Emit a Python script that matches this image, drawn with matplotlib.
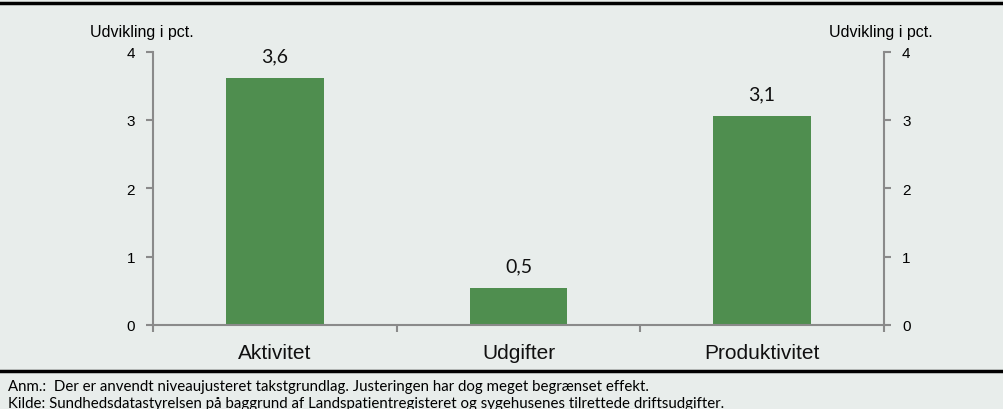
import matplotlib.pyplot as plt
from matplotlib.lines import Line2D

# Data
categories = ["Aktivitet", "Udgifter", "Produktivitet"]
values = [3.61, 0.54, 3.06]
y_ticks = [0, 1, 2, 3, 4]
y_label = "Udvikling i pct."
notes = [
    "Anm.:  Der er anvendt niveaujusteret takstgrundlag. Justeringen har dog meget begrænset effekt.",
    "Kilde: Sundhedsdatastyrelsen på baggrund af Landspatientregisteret og sygehusenes tilrettede driftsudgifter.",
]

BG = "#E8EDEB"
BAR = "#4F8E4F"
SPINE = "#8A8A8A"


def main():
    fig = plt.figure(figsize=(10.04, 4.10), dpi=100, facecolor=BG)
    ax = fig.add_axes([0.1524, 0.2049, 0.728, 0.667])
    ax.set_facecolor(BG)

    x = list(range(len(categories)))
    ax.bar(x, values, width=0.4, color=BAR, zorder=2)

    # Value labels with Danish decimal comma
    for xi, v in zip(x, values):
        ax.text(xi, v + 0.2, f"{v:.1f}".replace(".", ","), ha="center",
                va="bottom", fontsize=14, family="Lato", color="#111111")

    ax.set_xlim(-0.5, 2.5)
    ax.set_ylim(0, 4)
    ax.set_yticks(y_ticks)

    # Category boundaries as major ticks, labels on minor ticks
    ax.set_xticks([-0.5, 0.5, 1.5, 2.5])
    ax.set_xticklabels([])
    ax.set_xticks(x, minor=True)
    ax.set_xticklabels(categories, minor=True, fontsize=15,
                       family="Liberation Sans", color="#111111")
    ax.tick_params(axis="x", which="minor", length=0, pad=13)
    ax.tick_params(axis="x", which="major", length=5, width=1.5,
                   color=SPINE, direction="out")
    ax.tick_params(axis="y", length=5, width=1.5, color=SPINE,
                   direction="out", labelsize=11, pad=8)
    for lab in ax.get_yticklabels():
        lab.set_family("Liberation Sans")

    for side in ["top", "right"]:
        ax.spines[side].set_visible(False)
    for side in ["left", "bottom"]:
        ax.spines[side].set_color(SPINE)
        ax.spines[side].set_linewidth(1.5)

    # Right axis mirrors the left one
    ax2 = ax.twinx()
    ax2.set_ylim(0, 4)
    ax2.set_yticks(y_ticks)
    ax2.tick_params(axis="y", length=5, width=1.5, color=SPINE,
                    direction="out", labelsize=11, pad=8)
    for lab in ax2.get_yticklabels():
        lab.set_family("Liberation Sans")
    for side in ["top", "left", "bottom"]:
        ax2.spines[side].set_visible(False)
    ax2.spines["right"].set_color(SPINE)
    ax2.spines["right"].set_linewidth(1.5)

    # Axis titles above the y axes
    fig.text(90 / 1004, 1 - 33 / 410, y_label, ha="left", va="center",
             fontsize=11.5, family="Liberation Sans")
    fig.text(933 / 1004, 1 - 33 / 410, y_label, ha="right", va="center",
             fontsize=11.5, family="Liberation Sans")

    # Black rules at top and above the notes
    fig.add_artist(Line2D([0, 1], [1 - 3.5 / 410] * 2, color="black",
                          lw=2.5, transform=fig.transFigure))
    fig.add_artist(Line2D([0, 1], [1 - 372 / 410] * 2, color="black",
                          lw=2.5, transform=fig.transFigure))

    # Notes
    fig.text(8 / 1004, 1 - 387 / 410, notes[0], ha="left", va="center",
             fontsize=10.8, family="Lato")
    fig.text(8 / 1004, 1 - 404 / 410, notes[1], ha="left", va="center",
             fontsize=10.8, family="Lato")

    fig.savefig("out.png", dpi=100, facecolor=BG)


if __name__ == "__main__":
    main()
